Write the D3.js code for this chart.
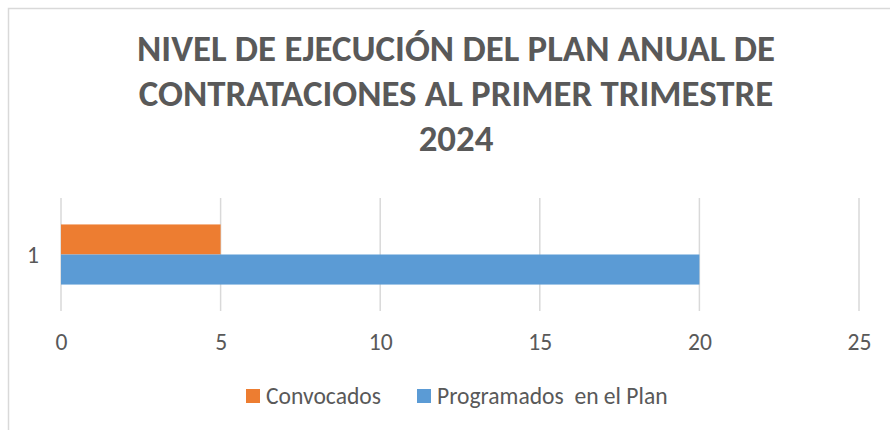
<html>
<head>
<meta charset="utf-8">
<script src="https://cdnjs.cloudflare.com/ajax/libs/d3/7.8.5/d3.min.js"></script>
<style>
body { margin: 0; background: #fff; }
svg { display: block; font-family: Carlito, 'Open Sans', sans-serif; }
</style>
</head>
<body>
<svg width="890" height="430"></svg>
<script>
// chart data
var categories = ["1"];
var seriesNames = ["Convocados", "Programados  en el Plan"];
var convocados = [5];
var programados = [20];
var xTicks = [0, 5, 10, 15, 20, 25];
var titleLines = ["NIVEL DE EJECUCIÓN DEL PLAN ANUAL DE", "CONTRATACIONES AL PRIMER TRIMESTRE", "2024"];
var colors = ["#ED7D31", "#5B9BD5"];

var svg = d3.select("svg");
var grey = "#595959";

// pick a font size so a sample string has the width seen in the picture
function fitSize(str, weight, target) {
  var t = svg.append("text").style("font-size", "100px").style("font-weight", weight)
    .style("white-space", "pre").text(str);
  var w = t.node().getComputedTextLength();
  t.remove();
  return 100 * target / w;
}
var titleSize = fitSize(titleLines[0], "bold", 638);
var labelSize = fitSize("Convocados", "normal", 115);

// chart frame (cut off at the right and bottom like the screenshot)
svg.append("rect")
  .attr("x", 8.5).attr("y", 8.5)
  .attr("width", 900).attr("height", 440)
  .attr("fill", "none").attr("stroke", "#d9d9d9").attr("stroke-width", 1.5);

// title
var titleY = [61, 106, 151];
svg.selectAll("text.title").data(titleLines).enter().append("text")
  .attr("class", "title")
  .attr("x", 456)
  .attr("y", function (d, i) { return titleY[i]; })
  .attr("text-anchor", "middle")
  .attr("fill", grey)
  .style("font-size", titleSize + "px").style("font-weight", "bold")
  .text(function (d) { return d; });

var x = d3.scaleLinear().domain([0, 25]).range([61, 859]);
var y = d3.scaleBand().domain(categories).range([198, 311]).paddingOuter(0.44);
var ySeries = d3.scaleBand().domain(d3.range(seriesNames.length)).range([0, y.bandwidth()]);

// gridlines
svg.selectAll("line.grid").data(xTicks).enter().append("line")
  .attr("class", "grid")
  .attr("x1", function (d) { return x(d); }).attr("x2", function (d) { return x(d); })
  .attr("y1", 198).attr("y2", 311)
  .attr("stroke", "#d9d9d9").attr("stroke-width", 1.5);

// bars
var series = [convocados, programados];
series.forEach(function (vals, s) {
  svg.selectAll("rect.s" + s).data(vals).enter().append("rect")
    .attr("class", "s" + s)
    .attr("x", x(0))
    .attr("y", function (d, i) { return y(categories[i]) + ySeries(s); })
    .attr("width", function (d) { return x(d) - x(0); })
    .attr("height", ySeries.bandwidth())
    .attr("fill", colors[s]);
});

// x axis labels
var xAxis = svg.append("g").attr("transform", "translate(0,342)")
  .call(d3.axisBottom(x).tickValues(xTicks).tickSize(0).tickPadding(0));
xAxis.select(".domain").remove();
xAxis.selectAll("text").attr("fill", grey).style("font-size", labelSize + "px")
  .style("font-family", "Carlito, 'Open Sans', sans-serif").attr("y", 0).attr("dy", "0.34em");

// y axis labels
var yAxis = svg.append("g").attr("transform", "translate(39,0)")
  .call(d3.axisLeft(y).tickSize(0).tickPadding(0));
yAxis.select(".domain").remove();
yAxis.selectAll("text").attr("fill", grey).style("font-size", labelSize + "px")
  .style("font-family", "Carlito, 'Open Sans', sans-serif").attr("dy", "0.34em");

// legend
var legX = [246, 417];
var leg = svg.selectAll("g.leg").data(seriesNames).enter().append("g")
  .attr("class", "leg")
  .attr("transform", function (d, i) { return "translate(" + legX[i] + ",389)"; });
leg.append("rect").attr("width", 14).attr("height", 14)
  .attr("fill", function (d, i) { return colors[i]; });
leg.append("text").attr("x", 20).attr("y", 7).attr("dy", "0.34em")
  .attr("fill", grey).style("font-size", labelSize + "px")
  .style("white-space", "pre")
  .text(function (d) { return d; });
</script>
</body>
</html>
